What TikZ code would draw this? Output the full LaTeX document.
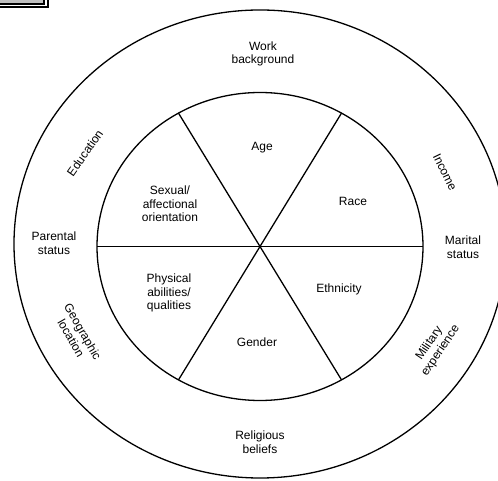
\documentclass[tikz,border=0pt]{standalone}
\usepackage{fontspec}
\setmainfont{Liberation Sans}
\usetikzlibrary{calc}

\tikzset{
	wheel/.style={line width=1.3pt},
	lbl/.style={align=center, inner sep=0pt, font=\fontsize{12}{13.5}\selectfont},
}

\begin{document}
\begin{tikzpicture}[x=1pt, y=1pt]
		%%%%% START %%%%%
		\useasboundingbox (-260, -234.5) rectangle (238, 246.5);
		
		% corner frame
		\draw[line width=1.6pt, fill=black!25] (-264, 251) rectangle (-216, 242.5);
		\draw[line width=1.6pt] (-264, 253) rectangle (-212, 239.6);
		
		% rings
		\draw[wheel] (0, 2.5) ellipse (246 and 234);
		\draw[wheel] (0, 0) ellipse (163 and 154);
		
		% spokes
		\coordinate (hub) at (0, 0);
		\draw[wheel] (180:163 and 154) -- (0:163 and 154);
		\draw[wheel] (120:163 and 154) -- (-60:163 and 154);
		\draw[wheel] (60:163 and 154) -- (-120:163 and 154);
		
		% inner dimensions
		\node[lbl] (age) at (2, 98.5) {Age};
		\node[lbl] (race) at (93, 45.5) {Race};
		\node[lbl] (ethnicity) at (79, -42.5) {Ethnicity};
		\node[lbl] (gender) at (-3, -95.5) {Gender};
		\node[lbl] (physical) at (-91, -46.5) {Physical\\abilities/\\qualities};
		\node[lbl] (sexual) at (-90, 42.5) {Sexual/\\affectional\\orientation};
		
		% outer dimensions
		\node[lbl] (work) at (3, 192.5) {Work\\background};
		\node[lbl, rotate=-64] (income) at (185, 74.5) {Income};
		\node[lbl] (marital) at (203, -0.5) {Marital\\status};
		\node[lbl, rotate=56] (military) at (175, -100.5) {Military\\experience};
		\node[lbl] (religious) at (0, -195.5) {Religious\\beliefs};
		\node[lbl, rotate=-60] (geographic) at (-183, -88.5) {Geographic\\location};
		\node[lbl] (parental) at (-206, 3.5) {Parental\\status};
		\node[lbl, rotate=55] (education) at (-175, 93.5) {Education};
		
		%%%%% END %%%%%
	\end{tikzpicture}
\end{document}
